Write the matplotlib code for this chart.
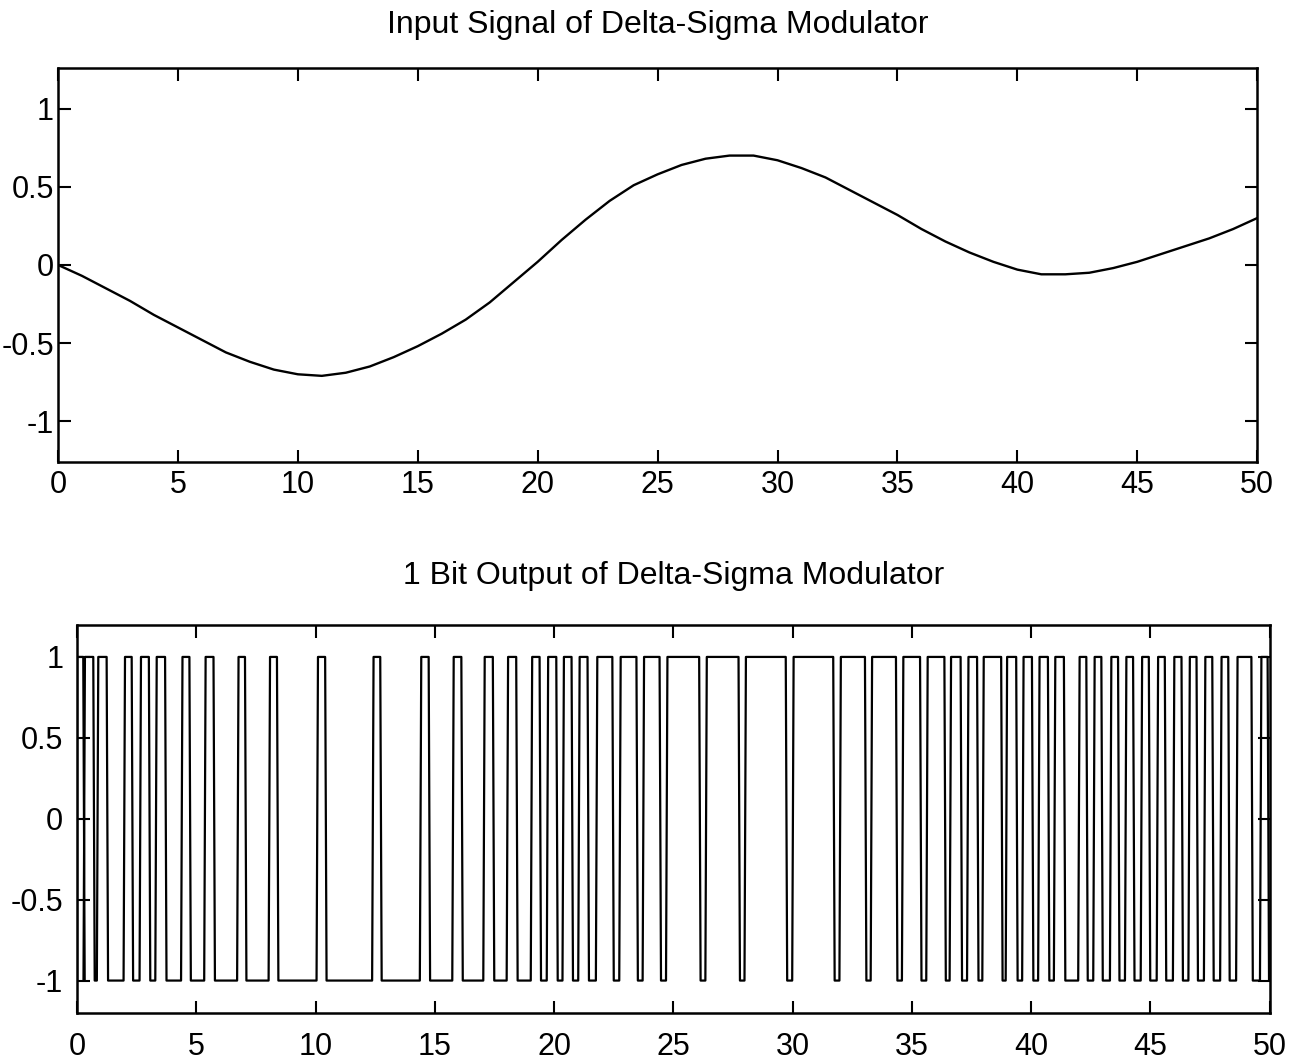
import matplotlib
matplotlib.use('Agg')
import matplotlib.pyplot as plt

plt.rcParams['font.family'] = ['Liberation Sans', 'DejaVu Sans']
plt.rcParams['axes.unicode_minus'] = False

# input signal at every time unit
t_in = list(range(51))
u_in = [0.00, -0.07, -0.15, -0.23, -0.32, -0.40, -0.48, -0.56, -0.62, -0.67,
        -0.70, -0.71, -0.69, -0.65, -0.59, -0.52, -0.44, -0.35, -0.24, -0.11,
        0.02, 0.16, 0.29, 0.41, 0.51, 0.58, 0.64, 0.68, 0.70, 0.70,
        0.67, 0.62, 0.56, 0.48, 0.40, 0.32, 0.23, 0.15, 0.08, 0.02,
        -0.03, -0.06, -0.06, -0.05, -0.02, 0.02, 0.07, 0.12, 0.17, 0.23,
        0.30]

# 1 bit output: start / end of every +1 pulse (the rest is -1)
pulse_on = [0.00, 0.33, 0.89, 2.01, 2.68, 3.34, 4.42, 5.39, 6.77, 8.09,
            10.10, 12.43, 14.43, 15.79, 17.09, 18.07, 19.08, 19.75, 20.41, 21.07,
            21.81, 22.79, 23.77, 24.75, 26.40, 28.04, 30.04, 32.02, 33.33, 34.64,
            35.66, 36.64, 37.37, 38.01, 38.99, 39.68, 40.35, 41.01, 42.03, 42.66,
            43.36, 43.99, 44.65, 45.32, 46.00, 46.65, 47.30, 47.98, 48.65, 49.65]
pulse_off = [0.26, 0.68, 1.24, 2.29, 3.01, 3.69, 4.71, 5.72, 7.04, 8.38,
             10.40, 12.71, 14.74, 16.11, 17.43, 18.41, 19.39, 20.09, 20.73, 21.40,
             22.44, 23.45, 24.42, 26.08, 27.73, 29.71, 31.70, 33.03, 34.33, 35.34,
             36.36, 37.04, 37.73, 38.74, 39.37, 40.03, 40.70, 41.37, 42.31, 42.94,
             43.64, 44.27, 44.93, 45.60, 46.30, 46.93, 47.59, 48.26, 49.23, 49.91]

edge = 0.06
xs, ys = [], []
for a, b in zip(pulse_on, pulse_off):
    xs += [max(a - edge, 0), a, b, b + edge]
    ys += [-1, 1, 1, -1]
xs.append(50)
ys.append(-1)


def style(ax, ylim, xpad, ypad):
    ax.set_xlim(0, 50)
    ax.set_ylim(-ylim, ylim)
    ax.set_xticks(range(0, 51, 5))
    ax.set_yticks([-1, -0.5, 0, 0.5, 1])
    ax.set_yticklabels(['-1', '-0.5', '0', '0.5', '1'])
    ax.tick_params(direction='in', top=True, right=True, length=9, width=1.5,
                   labelsize=22)
    ax.tick_params(axis='x', pad=xpad)
    ax.tick_params(axis='y', pad=ypad)
    for s in ax.spines.values():
        s.set_linewidth(1.8)


fig = plt.figure(figsize=(12.95, 10.64), dpi=100)

ax1 = fig.add_axes([0.0448, 0.566, 0.926, 0.370])
ax1.plot(t_in, u_in, color='black', lw=1.7)
style(ax1, 1.26, 6, 3)
ax1.set_title('Input Signal of Delta-Sigma Modulator', fontsize=23, pad=25)

ax2 = fig.add_axes([0.0595, 0.048, 0.921, 0.365])
ax2.plot(xs, ys, color='black', lw=1.6)
style(ax2, 1.2, 14, 10)
ax2.set_title('1 Bit Output of Delta-Sigma Modulator', fontsize=23, pad=29)

fig.savefig('out.png', dpi=100)
